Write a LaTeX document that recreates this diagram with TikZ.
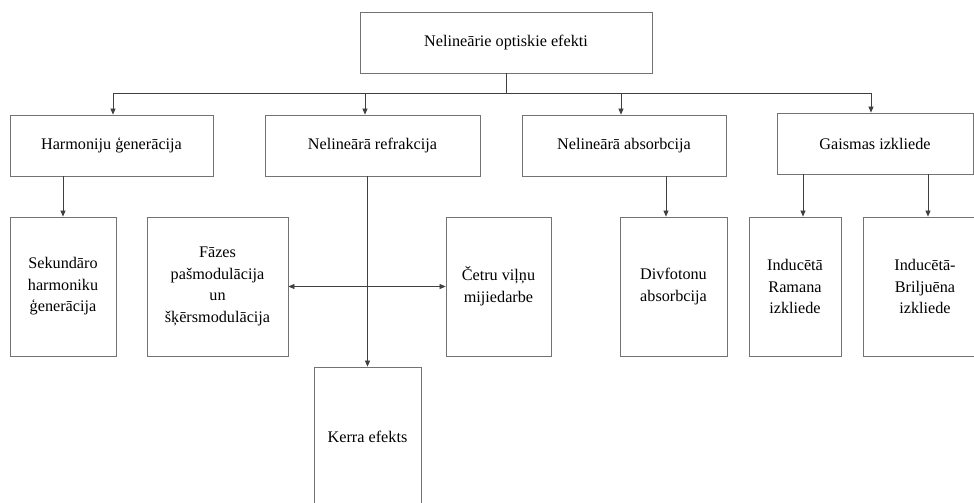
\documentclass[tikz,border=0pt]{standalone}
\usepackage{fontspec}
\setmainfont{Liberation Serif}
\usetikzlibrary{arrows.meta}
\tikzset{
  boite/.style={draw=black!55, line width=.8pt, align=center, inner sep=0pt,
    font=\fontsize{16.2}{21.5}\selectfont},
  trait/.style={draw=black!75, line width=.7pt},
  fleche/.style={trait, -{Triangle[length=6pt,width=5pt]}},
  fleches/.style={trait, {Triangle[length=6pt,width=5pt]}-{Triangle[length=6pt,width=5pt]}},
}
\begin{document}
\begin{tikzpicture}[x=1pt,y=-1pt]
  \useasboundingbox (0,0) rectangle (974,503);
  \clip (0,0) rectangle (974,503);
  % titre
  \node[boite, minimum width=292pt, minimum height=61pt] (effets) at (506,42.5) {Nelineārie optiskie efekti};
  % premier niveau
  \node[boite, minimum width=203pt, minimum height=61pt] (harm) at (111.5,145.5) {Harmoniju ģenerācija};
  \node[boite, minimum width=215pt, minimum height=61pt] (refr) at (372.5,145.5) {Nelineārā refrakcija};
  \node[boite, minimum width=204pt, minimum height=61pt] (absorb) at (624,145.5) {Nelineārā absorbcija};
  \node[boite, minimum width=196pt, minimum height=61pt] (izkl) at (875,143.5) {Gaismas izkliede};
  % second niveau
  \node[boite, minimum width=106pt, minimum height=139pt] (sek) at (63,286.5) {Sekundāro\\harmoniku\\ģenerācija};
  \node[boite, minimum width=141pt, minimum height=139pt] (faz) at (217.5,286.5) {Fāzes\\pašmodulācija\\un\\šķērsmodulācija};
  \node[boite, minimum width=105pt, minimum height=139pt] (cetr) at (498.5,286.5) {Četru viļņu\\mijiedarbe};
  \node[boite, minimum width=107pt, minimum height=139pt] (divf) at (673.5,286.5) {Divfotonu\\absorbcija};
  \node[boite, minimum width=92pt, minimum height=139pt] (ram) at (795,286.5) {Inducētā\\Ramana\\izkliede};
  \node[boite, minimum width=124pt, minimum height=139pt] (bril) at (925,286.5) {Inducētā-\\Briljuēna\\izkliede};
  \node[boite, minimum width=107pt, minimum height=140pt] (kerr) at (367.5,437) {Kerra efekts};
  % bus
  \coordinate (b1) at (113,93);
  \coordinate (b2) at (365,93);
  \coordinate (b3) at (621,93);
  \coordinate (b4) at (871,93);
  \draw[trait] (effets.south) -- (effets.south |- b1);
  \draw[trait] (b1) -- (b4);
  \draw[fleche] (b1) -- (b1 |- harm.north);
  \draw[fleche] (b2) -- (b2 |- refr.north);
  \draw[fleche] (b3) -- (b3 |- absorb.north);
  \draw[fleche] (b4) -- (b4 |- izkl.north);
  % descentes
  \coordinate (s1) at (666,0);
  \coordinate (s2) at (803,0);
  \coordinate (s3) at (928,0);
  \draw[fleche] (harm.south -| sek.north) -- (sek.north);
  \draw[fleche] (refr.south -| kerr.north) -- (kerr.north);
  \draw[fleches] (faz.east) -- (cetr.west);
  \draw[fleche] (s1 |- absorb.south) -- (s1 |- divf.north);
  \draw[fleche] (s2 |- izkl.south) -- (s2 |- ram.north);
  \draw[fleche] (s3 |- izkl.south) -- (s3 |- bril.north);
\end{tikzpicture}
\end{document}
